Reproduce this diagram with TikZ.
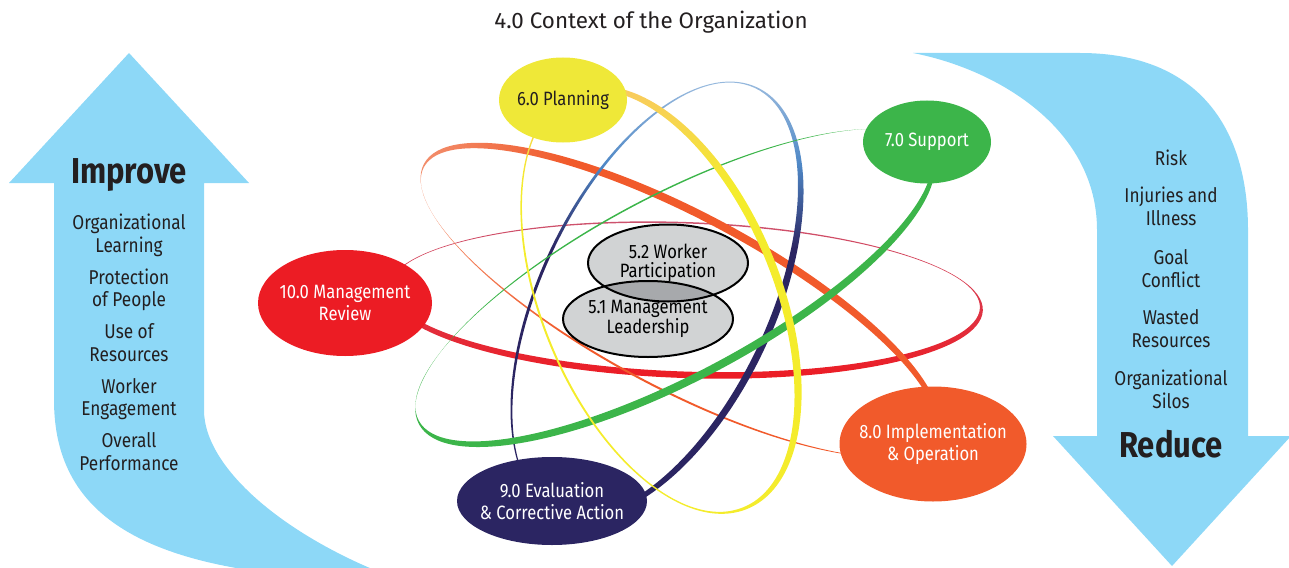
\documentclass[tikz,border=0pt]{standalone}
\usepackage{fontspec}
\setmainfont{Fira Sans}[FakeStretch=0.86]
\newfontfamily\titlefont{Fira Sans}
\usepackage{tikz}
\usetikzlibrary{shapes.geometric, positioning}
\definecolor{skyband}{HTML}{8DD8F7}
\definecolor{inkdark}{HTML}{231F20}
\definecolor{revred}{HTML}{EC1C24}
\definecolor{orbpink}{HTML}{CC5470}
\definecolor{planyellow}{HTML}{EFE838}
\definecolor{orbyellow}{HTML}{F4EC2C}
\definecolor{orbgold}{HTML}{F8CC5C}
\definecolor{supgreen}{HTML}{3CB54A}
\definecolor{implorange}{HTML}{F15A2B}
\definecolor{orbsalmon}{HTML}{F28E6C}
\definecolor{evalnavy}{HTML}{2B2562}
\definecolor{orbsteel}{HTML}{4F88C6}
\definecolor{leadgray}{HTML}{D1D3D4}
\definecolor{overlapgray}{HTML}{A7A9AC}
\pgfdeclareverticalshading{evalfade}{100bp}{color(0bp)=(evalnavy);
    color(56bp)=(evalnavy); color(66bp)=(orbsteel);
    color(75bp)=(orbsteel!60!white); color(100bp)=(orbsteel!60!white)}
\pgfdeclareverticalshading{planfade}{100bp}{color(0bp)=(orbyellow);
    color(62bp)=(orbyellow); color(72bp)=(orbgold); color(100bp)=(orbgold)}
\pgfdeclarehorizontalshading{implfade}{100bp}{color(0bp)=(orbsalmon);
    color(27bp)=(orbsalmon); color(40bp)=(implorange);
    color(100bp)=(implorange)}
\tikzstyle{stage} = [ellipse, inner sep=-15pt, align=center, text=white,
    font=\fontsize{19.3}{21.5}\selectfont]
\tikzstyle{core} = [stage, fill=leadgray, draw=black, line width=2pt,
    text=black, font=\fontsize{19.3}{18.5}\selectfont]
\tikzstyle{listtext} = [anchor=base, align=center, text=inkdark,
    font=\fontsize{20}{22.5}\selectfont]
\tikzstyle{headword} = [anchor=base, text=inkdark,
    font=\fontsize{36}{38}\selectfont\bfseries]
\tikzstyle{reviewring} = [top color=orbpink, bottom color=revred]
\tikzstyle{implring} = [shade, shading=implfade]
\tikzstyle{evalring} = [shade, shading=evalfade]
\tikzstyle{planring} = [shade, shading=planfade]
% orbit ring: look, centre, angle, outer a, outer b, inner a, inner b, inner shift
\newcommand{\orbit}[8]{%
  \path[#1, even odd rule, shift={#2}, rotate=#3]
    (0,0) ellipse [x radius=#4pt, y radius=#5pt]
    (0,#8) ellipse [x radius=#6pt, y radius=#7pt];}

\begin{document}
\begin{tikzpicture}[x=1pt, y=-1pt]
            \useasboundingbox (0,0) rectangle (1289,567);
            \clip (0,0) rectangle (1289,567);
            % Bands
            \fill[skyband] (129,53) -- (249,183) -- (204,183) -- (204,410)
            .. controls (204,470) and (290,540) .. (400,580)
            .. controls (150,580) and (54,520) .. (54,400) -- (54,183)
            -- (9,183) -- cycle;
            \fill[skyband] (913,53) -- (1080,53)
            .. controls (1200,53) and (1248,130) .. (1248,230) -- (1248,436)
            -- (1291,436) -- (1172,566) -- (1053,436) -- (1097,436)
            -- (1097,230) .. controls (1097,130) and (1000,70) .. (913,53)
            -- cycle;
            % Orbits
            \orbit{reviewring}{(685,300)}{-2}{298}{78}{295}{74}{-2.5}
            \orbit{implring}{(680,300)}{-28}{290}{89}{288.5}{84}{3}
            \orbit{evalring}{(657,300)}{64.7}{235}{118}{233.5}{113}{-2}
            \orbit{fill=supgreen}{(675,288)}{28}{290}{93}{288.5}{88.25}{-3.25}
            \orbit{planring}{(661,300)}{-67.5}{226}{120}{223}{115}{3}
            % Stages
            \node[anchor=base, text=inkdark, font=\titlefont\fontsize{22.4}{24}\selectfont]
            (context) at (651,29) {4.0 Context of the Organization};
            \node[stage, fill=revred, minimum width=174pt, minimum height=106pt]
            (review) at (345,303) {10.0 Management\\Review};
            \node[stage, fill=planyellow, text=inkdark, minimum width=128pt,
            minimum height=85pt] (plan) at (563,100) {6.0 Planning};
            \node[stage, fill=supgreen, minimum width=128pt, minimum height=83pt]
            (support) at (927,142) {7.0 Support};
            \node[stage, fill=implorange, minimum width=187pt, minimum height=115pt]
            (impl) at (933,444) {8.0 Implementation\\\& Operation};
            \node[stage, fill=evalnavy, minimum width=190pt, minimum height=88pt]
            (eval) at (552,501) {9.0 Evaluation\\\& Corrective Action};
            \node[core, minimum width=160pt, minimum height=77pt]
            (wp) at (668,263) {5.2 Worker\\Participation};
            \node[core, minimum width=170pt, minimum height=76pt,
            path picture={\filldraw[fill=overlapgray, draw=black, line width=2pt]
            (wp.center) ellipse [x radius=80pt, y radius=38.5pt];}]
            (ml) at (648,319) {5.1 Management\\Leadership};
            % Improve list
            \node[headword] (improve) at (129,183) {Improve};
            \node[listtext] (orglearn) at (129,252) {Organizational\\Learning};
            \node[listtext, below=54.5pt of orglearn.base, anchor=base]
            (protect) {Protection\\of People};
            \node[listtext, below=54.5pt of protect.base, anchor=base]
            (resuse) {Use of\\Resources};
            \node[listtext, below=54.5pt of resuse.base, anchor=base]
            (engage) {Worker\\Engagement};
            \node[listtext, below=54.5pt of engage.base, anchor=base]
            (perform) {Overall\\Performance};
            % Reduce list
            \node[listtext] (risk) at (1171,165) {Risk};
            \node[listtext, below=60pt of risk.base, anchor=base]
            (injury) {Injuries and\\Illness};
            \node[listtext, below=62pt of injury.base, anchor=base]
            (goal) {Goal\\Conflict};
            \node[listtext, below=60pt of goal.base, anchor=base]
            (waste) {Wasted\\Resources};
            \node[listtext, below=61pt of waste.base, anchor=base]
            (silos) {Organizational\\Silos};
            \node[headword] (reduce) at (1171,457) {Reduce};

        \end{tikzpicture}
\end{document}
